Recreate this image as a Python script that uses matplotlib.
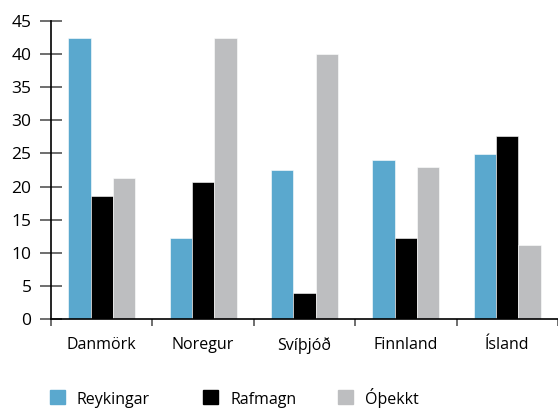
import numpy as np
import matplotlib.pyplot as plt
from matplotlib.patches import Rectangle

countries = ["Danmörk", "Noregur", "Svíþjóð", "Finnland", "Ísland"]
reykingar = [42.5, 12.2, 22.5, 24.0, 24.9]
rafmagn = [18.6, 20.7, 4.0, 12.2, 27.6]
othekkt = [21.3, 42.5, 40.0, 23.0, 11.1]
series_names = ["Reykingar", "Rafmagn", "Óþekkt"]
colors = ["#5AA8CE", "#000000", "#BDBEC0"]

plt.rcParams['font.family'] = ['Open Sans', 'DejaVu Sans']

W, H = 558, 408
fig = plt.figure(figsize=(W / 100, H / 100), dpi=100)
ax = fig.add_axes([51 / W, 89 / H, 507 / W, 298 / H])

x = np.arange(len(countries))
w = 0.22
for i, (vals, c) in enumerate(zip([reykingar, rafmagn, othekkt], colors)):
    ax.bar(x + (i - 1) * w, vals, width=w, color=c, edgecolor='white', linewidth=0.4)

ax.set_xlim(-0.5, len(countries) - 0.5)
ax.set_ylim(0, 45)
ax.set_yticks(range(0, 46, 5))
ax.tick_params(axis='y', direction='inout', length=16, width=1.2, color='#555555',
               labelsize=12.5, pad=6)
ax.set_xticks(np.arange(len(countries) + 1) - 0.5)
ax.set_xticks(x, minor=True)
ax.set_xticklabels([])
ax.set_xticklabels(countries, minor=True)
ax.tick_params(axis='x', which='major', direction='out', length=5, width=1.2, color='#555555')
ax.tick_params(axis='x', which='minor', length=0, labelsize=11.5, pad=13)

for s in ['top', 'right']:
    ax.spines[s].set_visible(False)
for s in ['left', 'bottom']:
    ax.spines[s].set_linewidth(1.2)
    ax.spines[s].set_color('black')

# legend row drawn by hand so the squares line up like the reference
sq_x = [50, 203, 338]
for px, c, n in zip(sq_x, colors, series_names):
    fig.add_artist(Rectangle((px / W, 4 / H), 15 / W, 14 / H, color=c,
                             transform=fig.transFigure))
    fig.text((px + 27) / W, 4 / H, n, fontsize=11.5, va='baseline', ha='left')

fig.savefig("out.png", dpi=100)
